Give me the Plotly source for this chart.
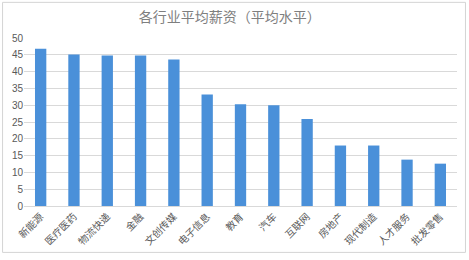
import plotly.graph_objects as go

industries = ["新能源", "医疗医药", "物流快递", "金融", "文创传媒", "电子信息", "教育",
              "汽车", "互联网", "房地产", "现代制造", "人才服务", "批发零售"]
avg_salary = [46.8, 45.1, 44.8, 44.8, 43.6, 33.2, 30.3, 30.0, 25.9, 18.0, 18.0, 13.8, 12.6]
y_ticks = [0, 5, 10, 15, 20, 25, 30, 35, 40, 45, 50]

FONT = "Noto Sans CJK SC"

# plot area in pixels: left 23, right 457, top 38, bottom 210
W, H = 469, 260
L, R, T, B = 23, 12, 38, 50
PW, PH = W - L - R, H - T - B

fig = go.Figure(
    go.Bar(
        x=industries,
        y=avg_salary,
        marker=dict(color="#4A90D9", line=dict(width=0)),
    )
)

fig.update_layout(
    width=W,
    height=H,
    margin=dict(l=L, r=R, t=T, b=B),
    paper_bgcolor="white",
    plot_bgcolor="white",
    bargap=0.66,
    showlegend=False,
    title=dict(
        text="各行业平均薪资（平均水平）",
        x=0.49,
        xanchor="center",
        y=0.935,
        yanchor="middle",
        font=dict(family=FONT, size=14, color="#7f7f7f"),
    ),
    font=dict(family=FONT, color="#595959"),
    xaxis=dict(
        tickangle=-45,
        tickfont=dict(size=10, color="#595959"),
        showgrid=False,
        showline=True,
        linecolor="#d9d9d9",
        linewidth=1,
        ticks="",
        fixedrange=True,
    ),
    yaxis=dict(
        range=[0, 50],
        tickvals=y_ticks,
        tickfont=dict(family="Liberation Sans", size=10, color="#595959"),
        showgrid=True,
        gridcolor="#d9d9d9",
        gridwidth=1,
        zeroline=False,
        showline=False,
        ticks="",
        fixedrange=True,
    ),
)

# thin light frame around the whole chart
fig.add_shape(
    type="rect",
    xref="paper", yref="paper",
    x0=(1.5 - L) / PW, x1=(465.5 - L) / PW,
    y0=-(257.5 - (T + PH)) / PH, y1=((T + PH) - 1.5) / PH,
    line=dict(color="#d4d4d4", width=1),
    layer="below",
)

fig.write_html("out.html", config={"displayModeBar": False})
